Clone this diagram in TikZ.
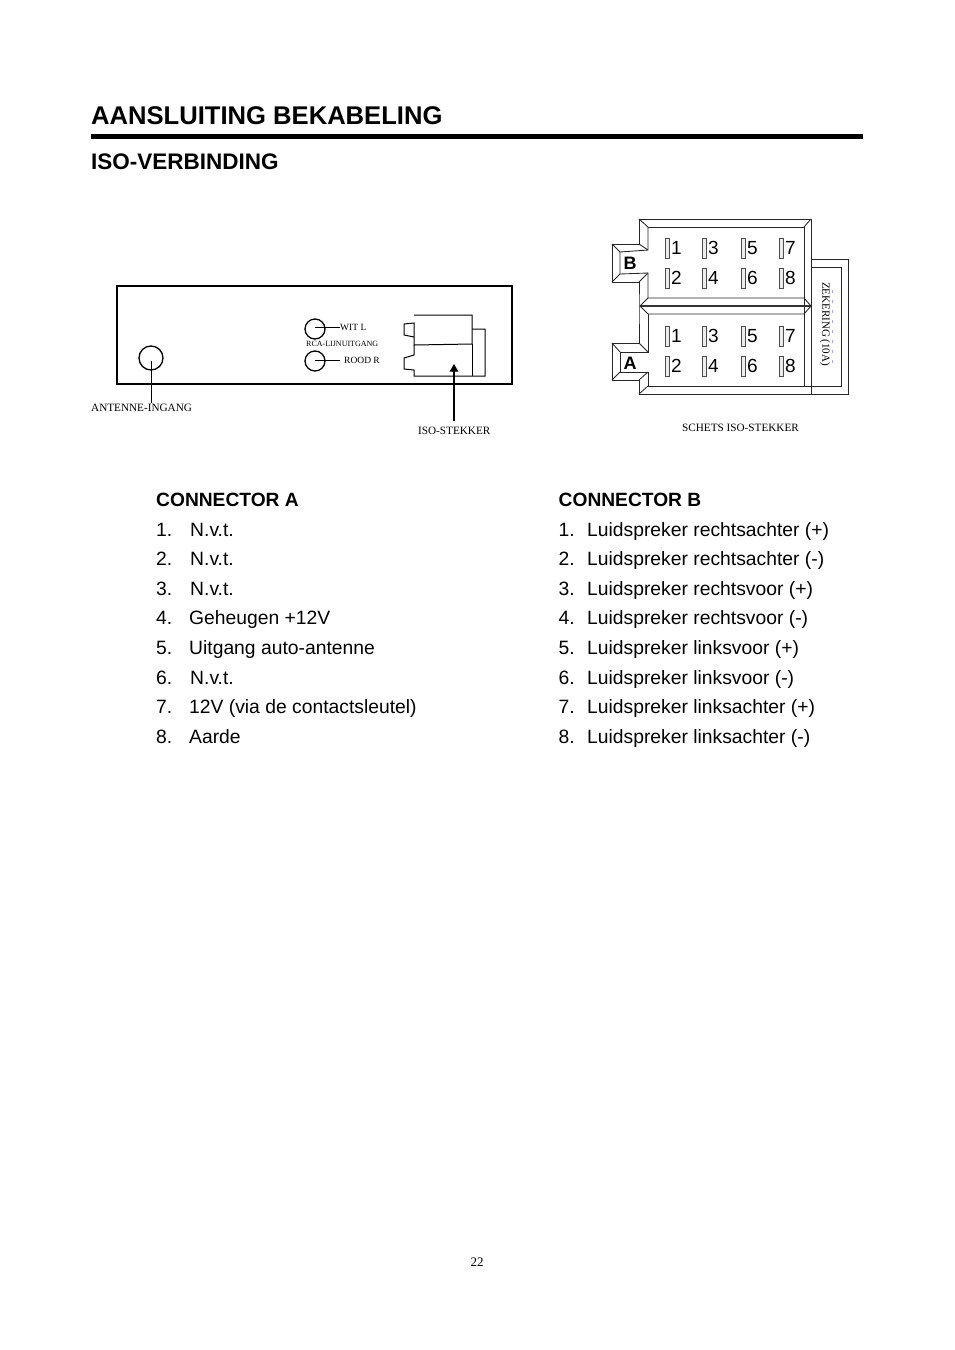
\documentclass[tikz,border=0pt]{standalone}
\usepackage{fontspec}
\setmainfont{Liberation Sans}
\newfontfamily\serifsmall{Liberation Serif}
\usetikzlibrary{arrows}
\begin{document}
\begin{tikzpicture}[x=1pt,y=-1pt,>=triangle 60,
    txt/.style={inner sep=0pt,anchor=base west,font=\fontsize{19.3}{22}\selectfont},
    head/.style={inner sep=0pt,anchor=base west,font=\bfseries\fontsize{19.2}{22}\selectfont},
    lab/.style={inner sep=0pt,anchor=base west,font=\serifsmall\fontsize{11.2}{13}\selectfont},
    pin/.style={draw=black!70,fill=gray!15,line width=0.7pt,minimum width=4pt,minimum height=20pt,inner sep=0pt},
    num/.style={inner sep=0pt,font=\fontsize{19}{22}\selectfont},
    wire/.style={draw,line width=1pt},
    jack/.style={draw,line width=1.3pt,circle,inner sep=0pt},
    case/.style={draw=black!85,line width=.85pt},
    ]
\useasboundingbox (0,0) rectangle (954,1350);
% headings
\node [inner sep=0pt,anchor=base west,font=\bfseries\fontsize{25.6}{30}\selectfont] (title) at (91,124) {AANSLUITING BEKABELING};
\coordinate (ruleL) at (91,136.5);
\coordinate (ruleR) at (863,136.5);
\draw [line width=4.5pt] (ruleL) -- (ruleR);
\node [inner sep=0pt,anchor=base west,font=\bfseries\fontsize{22.5}{24}\selectfont] (sub) at (91,169) {ISO-VERBINDING};
% rear panel
\node [draw,line width=1.4pt,minimum width=395pt,minimum height=98pt,inner sep=0pt] (panel) at (314.5,335) {};
\node [jack,minimum size=24pt] (ant) at (151,358) {};
\node [jack,minimum size=20pt] (wit) at (315,329) {};
\node [jack,minimum size=20pt] (rood) at (315,361) {};
\node [lab] (antlab) at (91,411) {ANTENNE-INGANG};
\node [lab,font=\serifsmall\fontsize{9.5}{11}\selectfont] (witlab) at (340,330) {WIT L};
\node [lab,font=\serifsmall\fontsize{8}{10}\selectfont] (rcalab) at (306,346) {RCA-LIJNUITGANG};
\node [lab,font=\serifsmall\fontsize{9.5}{11}\selectfont] (roodlab) at (344,363) {ROOD R};
\node [lab] (isolab) at (418,434) {ISO-STEKKER};
\draw [wire] (ant.center) ++(0,3) -- (antlab.north -| ant);
\draw [wire] (wit.center) ++(0,-2) -- (witlab.west |- 0,327);
\draw [wire] (rood.center) ++(0,-1) -- (340,360);
% iso plug on panel
\draw [wire] (414,315) -- (472,315) -- (472,344) -- (414,345) -- (414,323) -- (404,324) -- (404,335) -- (414,337);
\draw [wire] (414,345) -- (414,355) -- (404,358) -- (404,369) -- (414,370) -- (414,376) -- (485,376) -- (485,329) -- (472,329);
\draw [wire] (472,344) -- (472,376);
\coordinate (isotip) at (454,364);
\draw [->,line width=1.1pt] (isolab.north -| isotip) ++(0,-5) -- (isotip);
% sketch of iso plug: housing
\draw [case] (639,219) -- (811,219) -- (811,394) -- (639,394) -- (639,380) -- (612,380) -- (612,343) -- (639,343) -- (639,305) -- (639,282) -- (612,282) -- (612,244) -- (639,244) -- cycle;
\draw [case] (648,227) -- (804,227) -- (804,386);
\draw [case] (648,227) -- (648,250) -- (620,252) -- (620,274) -- (648,273) -- (648,298);
\draw [case] (648,314) -- (648,352) -- (620,352) -- (620,372) -- (648,372) -- (648,386) -- (841,386) -- (841,267) -- (811,267);
\draw [case] (811,259) -- (848,259) -- (848,394) -- (811,394);
% divider
\draw [line width=1.8pt,black!80] (640,306) -- (811,306);
\draw [case] (640,306) -- (648,298) -- (804,298) -- (811,306) -- (804,314) -- (648,314) -- cycle;
% bevels
\foreach \xa/\ya/\xb/\yb in {639/219/648/227, 811/219/804/227, 612/244/620/252, 639/244/648/250,
    612/282/620/274, 639/282/648/273, 612/343/620/352, 639/343/648/352, 612/380/620/372, 639/380/648/372, 639/394/648/386}
  \draw [case] (\xa,\ya) -- (\xb,\yb);
\node [inner sep=0pt,font=\bfseries\fontsize{18}{20}\selectfont] (tabB) at (630,263) {B};
\node [inner sep=0pt,font=\bfseries\fontsize{18}{20}\selectfont] (tabA) at (630,363) {A};
% pins
\foreach \row/\yo in {b/0,a/88} {
  \foreach \n/\px/\py in {1/667/248,2/667/278,3/704/248,4/704/278,5/743/248,6/743/278,7/781/248,8/781/278} {
    \pgfmathsetmacro{\yy}{\py+\yo}
    \node [pin] (pin\row\n) at (\px,\yy) {};
    \node [num,anchor=west,xshift=1.5pt] at (pin\row\n.east) {\n};
  }
}
\node [inner sep=0pt,rotate=-90,font=\serifsmall\fontsize{11}{12}\selectfont] (fuse) at (825,324) {ZEKERING (10A)};
\coordinate (fuseT) at (832,290);
\coordinate (fuseB) at (832,366);
\draw [blue!35,line width=.5pt,dash pattern=on 3pt off 7pt] (fuseT) -- (fuseB);
\node [lab] (schets) at (682,431) {SCHETS ISO-STEKKER};
% connector lists
\node [head] (conA) at (156,506) {CONNECTOR A};
\foreach \n/\tt/\yy/\xx in {1/N.v.t./536/190,2/N.v.t./565/190,3/N.v.t./595/190,4/Geheugen +12V/624/189,5/Uitgang auto-antenne/654/189,6/N.v.t./684/190,7/12V (via de contactsleutel)/713/189,8/Aarde/743/189} {
  \node [txt] (anum\n) at (156,\yy) {\n.};
  \node [txt] (atxt\n) at (\xx,\yy) {\tt};
}
\node [head] (conB) at (558.5,506) {CONNECTOR B};
\foreach \n/\tt/\yy in {1/Luidspreker rechtsachter (+)/536,2/Luidspreker rechtsachter (-)/565,3/Luidspreker rechtsvoor (+)/595,4/Luidspreker rechtsvoor (-)/624,5/Luidspreker linksvoor (+)/654,6/Luidspreker linksvoor (-)/684,7/Luidspreker linksachter (+)/713,8/Luidspreker linksachter (-)/743} {
  \node [txt] (bnum\n) at (558.5,\yy) {\n.};
  \node [txt] (btxt\n) at (587,\yy) {\tt};
}
\node [inner sep=0pt,anchor=base,font=\serifsmall\fontsize{13}{15}\selectfont] (page) at (477,1266) {22};
\end{tikzpicture}
\end{document}
